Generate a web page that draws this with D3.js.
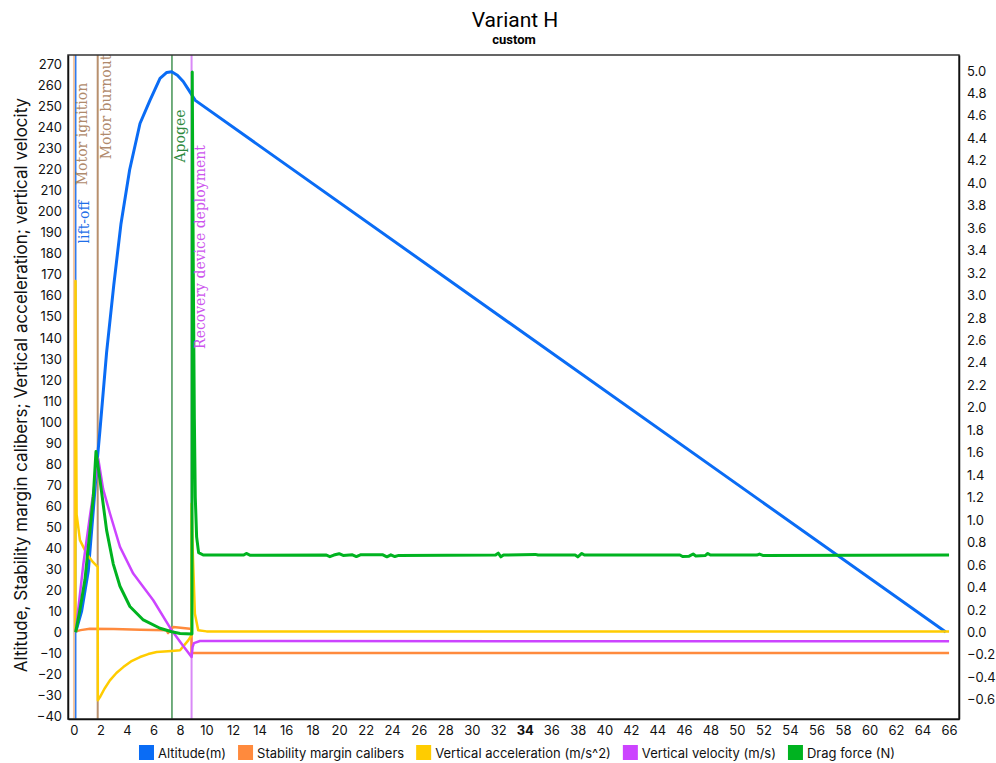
<!DOCTYPE html>
<html>
<head>
<meta charset="utf-8">
<script src="https://cdn.jsdelivr.net/npm/d3@7"></script>
<style>
  body { margin: 0; background: #fff; }
  text { font-family: Inter, "Noto Sans", sans-serif; }
</style>
</head>
<body>
<div id="chart"></div>
<script>
// flight data, [time (s), value]
var altitude = [[0.13,0],[0.58,10],[1.08,29],[1.46,58],[1.76,82],[1.96,96],[2.46,133],[3.0,165],[3.54,194],[4.2,220],[4.98,242],[5.73,253],[6.49,263.5],[7.0,266.3],[7.37,266.6],[7.8,265],[8.24,262],[8.6,258.5],[8.95,255],[9.15,253],[65.75,0]];

var stability = [[0.13,0.3],[0.5,0.9],[1.2,1.6],[3,1.4],[5,1.1],[6.99,0.8],[7.1,-0.5],[7.25,1.0],[7.5,2.4],[8.75,1.6],[8.86,1.5],[8.87,-10],[66,-10]];

var acceleration = [[0.11,0],[0.12,167],[0.2,56],[0.45,43.7],[0.96,37.3],[1.4,33.5],[1.79,31],[1.8,-32.5],[1.96,-31],[2.3,-27],[2.71,-23],[3.2,-19.5],[3.72,-16.7],[4.3,-14],[4.98,-11.9],[5.6,-10.5],[6.24,-9.5],[7.37,-9],[8.0,-8.7],[8.62,-4],[8.86,-1.6],[8.87,61],[8.95,40],[9.12,8.7],[9.37,0.8],[10,0.3],[66,0.2]];

var velocity = [[0.13,0],[0.7,32],[1.2,55],[1.83,82.5],[2.2,68],[2.71,56.5],[3.47,40.5],[4.47,27.8],[5.98,15.1],[7.37,0.8],[8.1,-5.5],[8.87,-11.9],[8.95,-7],[9.05,-5.3],[9.5,-4.3],[66,-4.4]];

// drag force is read against the right-hand axis
var drag = [[0.13,0],[0.45,0.2],[0.83,0.47],[1.21,0.91],[1.46,1.21],[1.66,1.61],[1.96,1.36],[2.46,0.91],[2.96,0.61],[3.47,0.41],[4.22,0.23],[5.23,0.11],[6.49,0.036],[7.37,0.005],[8.0,-0.01],[8.9,-0.015],[8.92,4.99],[9.0,3.2],[9.08,1.9],[9.15,1.2],[9.25,0.85],[9.4,0.71],[9.75,0.688],[12.8,0.688],[13.0,0.702],[13.3,0.686],[19.0,0.689],[19.3,0.674],[19.6,0.688],[20.0,0.7],[20.3,0.685],[21.0,0.69],[21.3,0.675],[21.6,0.69],[23.3,0.69],[23.6,0.672],[23.9,0.69],[24.2,0.675],[24.5,0.685],[31.8,0.688],[32.0,0.705],[32.2,0.672],[32.4,0.688],[34.8,0.694],[35.0,0.688],[37.8,0.688],[38.0,0.672],[38.3,0.702],[38.5,0.688],[45.7,0.688],[45.9,0.675],[46.4,0.678],[46.7,0.697],[46.9,0.68],[47.6,0.683],[47.8,0.702],[48.0,0.688],[51.5,0.688],[51.7,0.697],[52.0,0.683],[66,0.688]];

var eventNames = ["Motor ignition", "lift-off", "Motor burnout", "Apogee", "Recovery device deployment"];
var eventTimes = [0, 0.13, 1.79, 7.39, 8.87];

var seriesNames = ["Altitude(m)", "Stability margin calibers", "Vertical acceleration (m/s^2)", "Vertical velocity (m/s)", "Drag force (N)"];

var xTicks = d3.range(0, 67, 2);
var yLeftTicks = d3.range(-40, 271, 10);
var yRightTicks = d3.range(-6, 51, 2).map(function(d){ return d / 10; });

var width = 996, height = 763;
var margin = {top: 55, left: 68, right: 37, bottom: 44};

var seriesColors = ["#0a6cf5", "#ff8a3d", "#ffcc00", "#cc44ff", "#00b320"];
var eventLine = ["#f8c8a0", "#2f7cf0", "#b8906e", "#4f9a5f", "#d98af7"];
var eventText = ["#b08a6c", "#1f6fe8", "#b08a6c", "#2e8a3e", "#cc55ee"];
// vertical centre of each rotated label
var eventMid = [134, 222, 107, 136, 247];

var svg = d3.select("#chart").append("svg")
    .attr("width", width)
    .attr("height", height);

var x = d3.scaleLinear()
    .domain([-0.45, 66.75])
    .range([margin.left, width - margin.right]);

var yLeft = d3.scaleLinear()
    .domain([-41.4, 274.6])
    .range([height - margin.bottom, margin.top]);

var yRight = d3.scaleLinear()
    .domain([-0.772, 5.141])
    .range([height - margin.bottom, margin.top]);

svg.append("clipPath").attr("id", "plotclip")
  .append("rect")
    .attr("x", margin.left).attr("y", margin.top)
    .attr("width", width - margin.left - margin.right)
    .attr("height", height - margin.top - margin.bottom);

// title
svg.append("text")
    .attr("x", 515).attr("y", 27)
    .attr("text-anchor", "middle")
    .style("font-family", "Roboto, sans-serif")
    .style("font-size", "21px")
    .text("Variant H");
svg.append("text")
    .attr("x", 514).attr("y", 44)
    .attr("text-anchor", "middle")
    .style("font-family", "Roboto, sans-serif")
    .style("font-weight", "bold")
    .style("font-size", "13px")
    .text("custom");

// event lines
var plot = svg.append("g").attr("clip-path", "url(#plotclip)");

plot.selectAll(".event")
    .data(eventTimes).enter().append("line")
    .attr("class", "event")
    .attr("x1", function(d){ return x(d); })
    .attr("x2", function(d){ return x(d); })
    .attr("y1", margin.top)
    .attr("y2", height - margin.bottom)
    .attr("stroke", function(d, i){ return eventLine[i]; })
    .attr("stroke-width", function(d, i){ return i == 1 || i == 3 ? 1.6 : 2; });

// series
var lineLeft = d3.line()
    .x(function(d){ return x(d[0]); })
    .y(function(d){ return yLeft(d[1]); });

var lineRight = d3.line()
    .x(function(d){ return x(d[0]); })
    .y(function(d){ return yRight(d[1]); });

var series = [
    {data: altitude, line: lineLeft, w: 3},
    {data: stability, line: lineLeft, w: 2.5},
    {data: acceleration, line: lineLeft, w: 2.5},
    {data: velocity, line: lineLeft, w: 2.5},
    {data: drag, line: lineRight, w: 3}
];

plot.selectAll(".series")
    .data(series).enter().append("path")
    .attr("class", "series")
    .attr("d", function(d){ return d.line(d.data); })
    .attr("fill", "none")
    .attr("stroke", function(d, i){ return seriesColors[i]; })
    .attr("stroke-width", function(d){ return d.w; })
    .attr("stroke-linejoin", "round");

// event labels
svg.selectAll(".eventlabel")
    .data(eventTimes).enter().append("text")
    .attr("class", "eventlabel")
    .attr("transform", function(d, i){
        return "translate(" + (x(d) + 13) + "," + eventMid[i] + ") rotate(-90)";
    })
    .attr("text-anchor", "middle")
    .style("font-family", "'DejaVu Serif', serif")
    .style("font-size", "14px")
    .attr("fill", function(d, i){ return eventText[i]; })
    .text(function(d, i){ return eventNames[i]; });

// frame
svg.append("rect")
    .attr("x", margin.left).attr("y", margin.top)
    .attr("width", width - margin.left - margin.right)
    .attr("height", height - margin.top - margin.bottom)
    .attr("fill", "none")
    .attr("stroke", "#333")
    .attr("stroke-width", 1.5);

// axes
var xAxis = svg.append("g")
    .attr("transform", "translate(0," + (height - margin.bottom) + ")")
    .call(d3.axisBottom(x).tickValues(xTicks).tickSize(0).tickPadding(7));

var leftAxis = svg.append("g")
    .attr("transform", "translate(" + margin.left + ",0)")
    .call(d3.axisLeft(yLeft).tickValues(yLeftTicks).tickSize(0).tickPadding(6));

var rightAxis = svg.append("g")
    .attr("transform", "translate(" + (width - margin.right) + ",0)")
    .call(d3.axisRight(yRight).tickValues(yRightTicks).tickFormat(d3.format(".1f")).tickSize(0).tickPadding(8));

[xAxis, leftAxis, rightAxis].forEach(function(a){
    a.select(".domain").attr("stroke", "#111").attr("stroke-width", 1.5);
    a.selectAll("text")
        .style("font-family", "Inter, sans-serif")
        .style("font-size", "13px")
        .attr("fill", "#111");
});

xAxis.selectAll(".tick text")
    .style("font-weight", function(d){ return d == 34 ? "bold" : null; });

// y axis title
svg.append("text")
    .attr("transform", "translate(27," + ((margin.top + height - margin.bottom) / 2 - 2) + ") rotate(-90)")
    .attr("text-anchor", "middle")
    .style("font-size", "17px")
    .attr("fill", "#111")
    .text("Altitude, Stability margin calibers; Vertical acceleration; vertical velocity");

// legend
var legend = svg.append("g");
var lx = 0;
seriesNames.forEach(function(name, i){
    var g = legend.append("g").attr("transform", "translate(" + lx + ",0)");
    g.append("rect")
        .attr("x", 0).attr("y", 745)
        .attr("width", 15).attr("height", 15)
        .attr("fill", seriesColors[i]);
    var t = g.append("text")
        .attr("x", 19).attr("y", 758)
        .style("font-size", "13px")
        .attr("fill", "#111")
        .text(name);
    lx += 19 + t.node().getComputedTextLength() + 12;
});
legend.attr("transform", "translate(" + (517 - (lx - 12) / 2) + ",0)");
</script>
</body>
</html>
